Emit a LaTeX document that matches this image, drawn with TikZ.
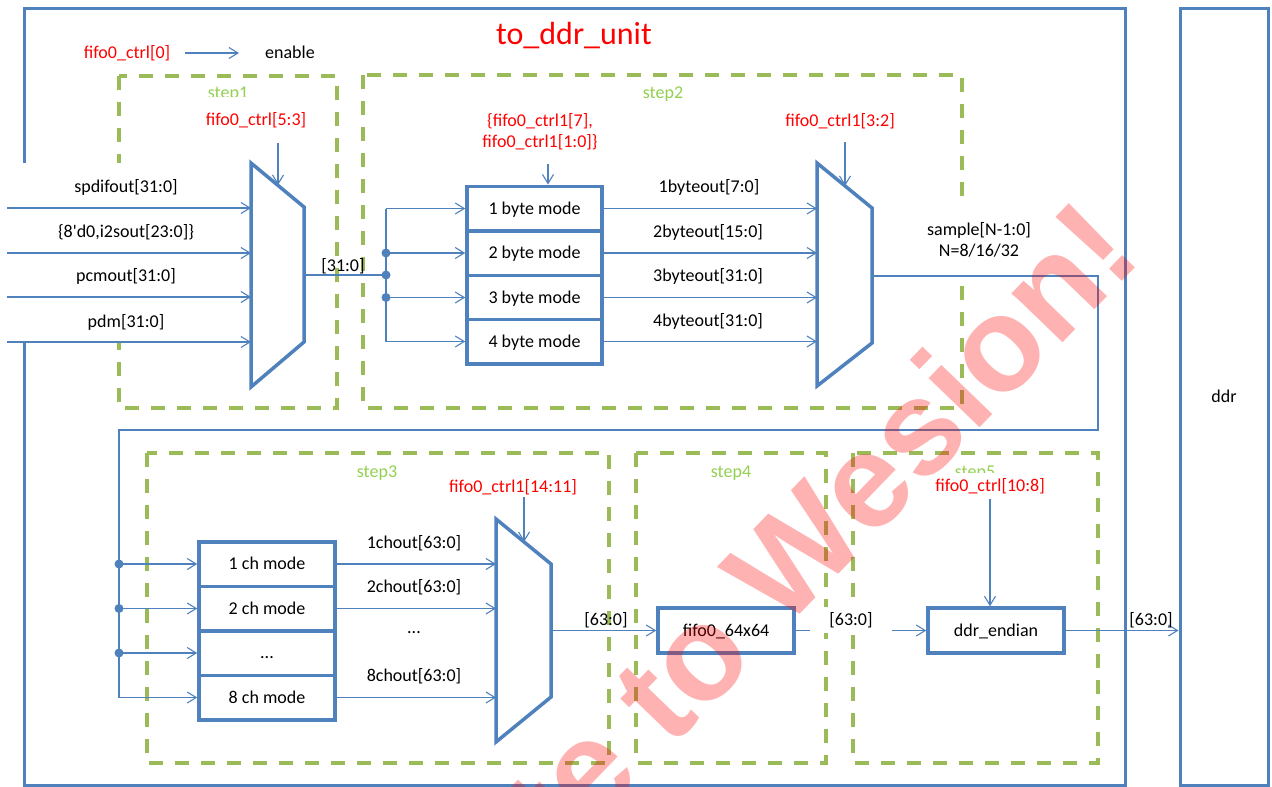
\documentclass[tikz,border=0pt]{standalone}
\usepackage{fontspec}
\setmainfont{Carlito}
\newfontfamily\markfont{Liberation Sans}
\usetikzlibrary{arrows.meta}
\definecolor{hwblue}{HTML}{4F81BD}
\definecolor{stepgreen}{HTML}{9BBB59}
\definecolor{steptext}{HTML}{92D050}
\begin{document}
\begin{tikzpicture}[x=1pt,y=-1pt,
  font=\fontsize{18}{21.5}\selectfont,
  frame/.style={draw=hwblue,line width=3pt},
  stepbox/.style={draw=stepgreen,line width=4pt,dash pattern=on 14pt off 12pt},
  lbl/.style={inner sep=0pt,text height=11.5pt,text depth=0pt},
  steplbl/.style={lbl,text=steptext},
  ctl/.style={lbl,text=red},
  blk/.style={draw=hwblue,line width=3.5pt,fill=white,minimum width=136pt,
    minimum height=44.5pt,inner sep=0pt,text height=11.5pt,text depth=0pt},
  muxline/.style={draw=hwblue,line width=3.5pt,fill=white,line join=miter},
  wire/.style={draw=hwblue,line width=1.1pt},
  arr/.style={wire,-{Straight Barb[length=9pt,width=11pt]}},
  dot/.style={circle,fill=hwblue,inner sep=0pt,minimum size=9pt},
]
\useasboundingbox (0,0) rectangle (1272,787);

% --- unit frame and the ddr block ---
\draw[frame] (24,8) rectangle (1125,785);
\node[frame,lbl,minimum width=88pt,minimum height=777pt] (ddr) at (1224,396.5) {ddr};

% --- pipeline stage outlines ---
\draw[stepbox] (119,76) rectangle (337,408);
\draw[stepbox] (363,75) rectangle (962,408);
\draw[stepbox] (147,453) rectangle (609,763);
\draw[stepbox] (636,453) rectangle (826,763);
\draw[stepbox] (853,453) rectangle (1098,763);

% blank area behind the input bus names
\fill[white] (0,163) rectangle (245,342);

% --- function blocks ---
\node[blk,minimum width=135pt] (b1) at (534.5,208.5) {1 byte mode};
\node[blk,minimum width=135pt] (b2) at (534.5,253) {2 byte mode};
\node[blk,minimum width=135pt] (b3) at (534.5,297.5) {3 byte mode};
\node[blk,minimum width=135pt] (b4) at (534.5,341.5) {4 byte mode};

\node[blk] (c1) at (267,564) {1 ch mode};
\node[blk] (c2) at (267,608.5) {2 ch mode};
\node[blk] (c3) at (267,653) {...};
\node[blk] (c4) at (267,697.5) {8 ch mode};

\node[blk,minimum height=45pt] (fifo) at (726,630.5) {fifo0\_64x64};
\node[blk,minimum height=45pt] (endian) at (996,630.5) {ddr\_endian};

% --- multiplexers ---
\coordinate (m1tl) at (251,163); \coordinate (m1tr) at (304,207);
\coordinate (m1br) at (304,342); \coordinate (m1bl) at (251,387);
\coordinate (m2tl) at (817,163); \coordinate (m2tr) at (872,208);
\coordinate (m2br) at (872,343); \coordinate (m2bl) at (817,386);
\coordinate (m3tl) at (496,519); \coordinate (m3tr) at (551,564);
\coordinate (m3br) at (551,697); \coordinate (m3bl) at (496,742);
\draw[muxline] (m1tl) -- (m1tr) -- (m1br) -- (m1bl) -- cycle;
\draw[muxline] (m2tl) -- (m2tr) -- (m2br) -- (m2bl) -- cycle;
\draw[muxline] (m3tl) -- (m3tr) -- (m3br) -- (m3bl) -- cycle;

% ports and wire ends
\coordinate (m1sel) at (278,185);
\coordinate (m2sel) at (845,186);
\coordinate (m3sel) at (524,542);
\coordinate (m1out) at (304,275);
\coordinate (m2out) at (872,276);
\coordinate (m3out) at (551,630.5);
\coordinate (busx) at (386,275);
\coordinate (fbr) at (1098,430);
\coordinate (fbl) at (119,430);
\coordinate (src1) at (7,208);
\coordinate (src2) at (7,253);
\coordinate (src3) at (7,297);
\coordinate (src4) at (7,342);
\coordinate (sel1) at (278,143);
\coordinate (sel2) at (845,142);
\coordinate (sel3) at (524,497);
\coordinate (selb) at (548,164);

% --- wires: step1 ---
\foreach \s in {1,...,4}
  \draw[arr] (src\s) -- (src\s -| m1tl);
\draw[arr] (sel1) -- (m1sel);
\draw[wire] (m1out) -- (busx);

% --- wires: step2 ---
\draw[wire] (b1.west -| busx) -- (b4.west -| busx);
\foreach \b in {b1,b2,b3,b4}
  \draw[arr] (\b.west -| busx) -- (\b.west);
\node[dot] (d1) at (b2.west -| busx) {};
\node[dot] (d2) at (busx) {};
\node[dot] (d3) at (b3.west -| busx) {};
\draw[arr] (selb) -- (selb |- b1.north);
\foreach \b in {b1,b2,b3,b4}
  \draw[arr] (\b.east) -- (\b.east -| m2tl);
\draw[arr] (sel2) -- (m2sel);

% --- feedback into step3 ---
\draw[arr] (m2out) -| (fbr) -- (fbl) -- (fbl |- c4.west) -- (c4.west);
\foreach \c in {c1,c2,c3}
  \draw[arr] (fbl |- \c.west) -- (\c.west);
\node[dot] (d4) at (fbl |- c1.west) {};
\node[dot] (d5) at (fbl |- c2.west) {};
\node[dot] (d6) at (fbl |- c3.west) {};
\foreach \c in {c1,c2,c4}
  \draw[arr] (\c.east) -- (\c.east -| m3tl);
\draw[arr] (sel3) -- (m3sel);

% --- steps 4 and 5 ---
\draw[arr] (m3out) -- (fifo.west);
\draw[arr] (fifo.east) -- (endian.west);
\draw[arr] (endian.east) -- (endian.east -| ddr.west);

% --- labels ---
\node[text=red,inner sep=0pt,font=\fontsize{32}{36}\selectfont] (title) at (574,36) {to\_ddr\_unit};
\node[ctl] (en0) at (127,53) {fifo0\_ctrl[0]};
\node[lbl] (enl) at (290,53) {enable};
\draw[arr] ([xshift=14.5pt]en0.east) -- ([xshift=-26pt]enl.west);

\node[steplbl] (s1) at (228,93) {step1};
\node[steplbl] (s2) at (663,93) {step2};
\node[steplbl] (s3) at (377,472) {step3};
\node[steplbl] (s4) at (731,472) {step4};
\node[steplbl] (s5) at (975,472) {step5};

\node[ctl,fill=white,minimum width=112pt,minimum height=46pt] (k1) at (256,120) {fifo0\_ctrl[5:3]};
\node[text=red,inner sep=0pt,align=center] (k2) at (540,131.5) {\{fifo0\_ctrl1[7],\\fifo0\_ctrl1[1:0]\}};
\node[ctl] (k3) at (840,121) {fifo0\_ctrl1[3:2]};
\node[ctl] (k4) at (513,487) {fifo0\_ctrl1[14:11]};
\node[ctl,fill=white,minimum width=112pt,minimum height=26pt] (k5) at (990,486) {fifo0\_ctrl[10:8]};
\draw[arr] (k5.south) -- (k5.south |- endian.north);

\node[lbl] (n1) at (126,187) {spdifout[31:0]};
\node[lbl] (n2) at (126,232) {\{8\textquotesingle d0,i2sout[23:0]\}};
\node[lbl] (n3) at (126,276) {pcmout[31:0]};
\node[lbl] (n4) at (126,322) {pdm[31:0]};
\node[lbl] (w32) at (343,266) {[31:0]};

\node[lbl] (o1) at (709,187) {1byteout[7:0]};
\node[lbl] (o2) at (708,232) {2byteout[15:0]};
\node[lbl] (o3) at (708,276) {3byteout[31:0]};
\node[lbl] (o4) at (708,321) {4byteout[31:0]};
\node[inner sep=0pt,align=center,fill=white,minimum width=112pt,minimum height=69pt] (smp) at (979,240) {sample[N-1:0]\\N=8/16/32};

\node[lbl] (h1) at (414,543) {1chout[63:0]};
\node[lbl] (h2) at (414,587) {2chout[63:0]};
\node[lbl] (h3) at (414,628) {...};
\node[lbl] (h4) at (414,676) {8chout[63:0]};

\node[lbl] (w64a) at (606,620) {[63:0]};
\node[lbl,fill=white,minimum width=82pt,minimum height=26pt] (w64b) at (851,620) {[63:0]};
\node[lbl] (w64c) at (1151,620) {[63:0]};

% --- watermark ---
\node[rotate=46,anchor=base,inner sep=0pt,text=red,text opacity=0.3,
  font=\markfont\bfseries\fontsize{134}{134}\selectfont] (mark) at (853,560) {te to Wesion!};
\end{tikzpicture}
\end{document}
